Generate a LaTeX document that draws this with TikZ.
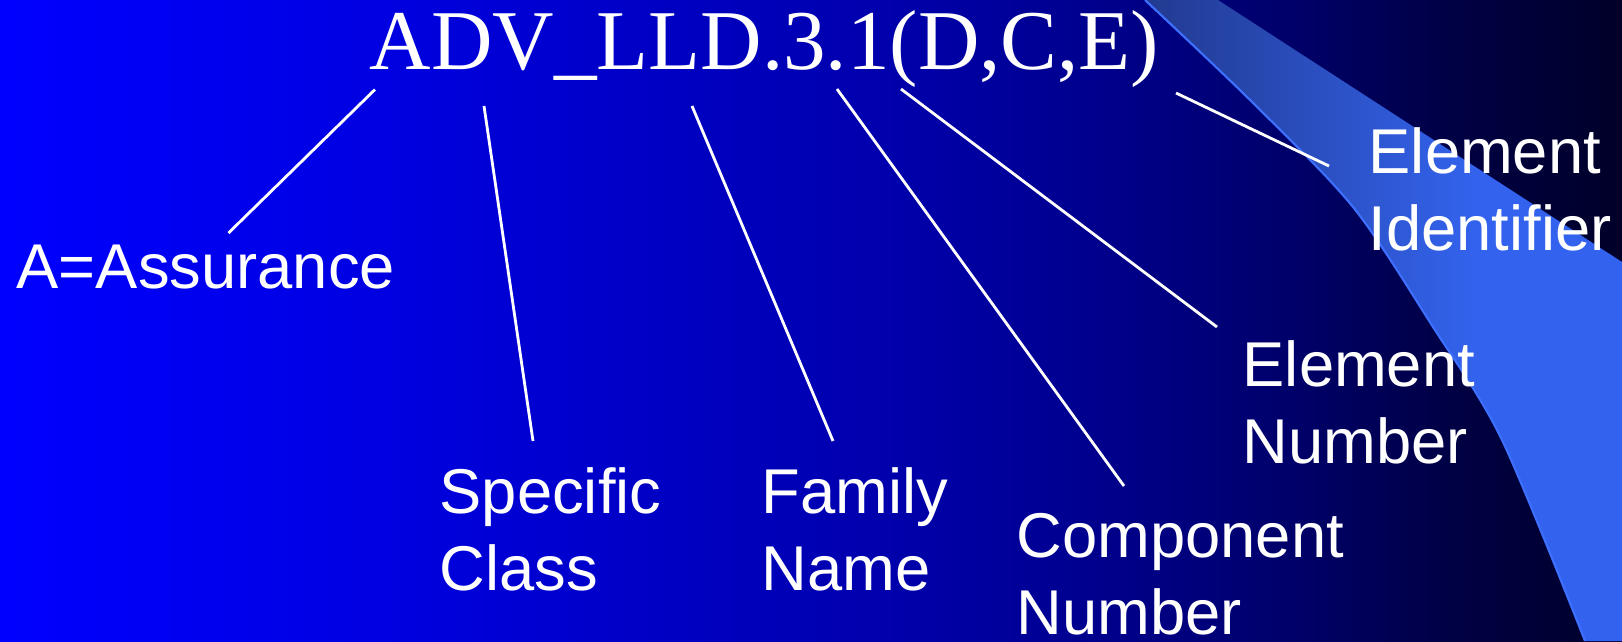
\documentclass[tikz,border=0pt]{standalone}
\usepackage{fontspec}
\setmainfont{Liberation Serif}
\setsansfont{Liberation Sans}
\usetikzlibrary{positioning}

\definecolor{swA}{RGB}{34,58,144}
\definecolor{swB}{RGB}{51,99,238}
\definecolor{swEdge}{RGB}{62,112,255}

% slide background, blue fading to near black
\pgfdeclarehorizontalshading{slidebg}{100bp}{rgb(0bp)=(0,0,1); rgb(25bp)=(0,0,1); rgb(37bp)=(0,0,0.88); rgb(52.7bp)=(0,0,0.67); rgb(58.9bp)=(0,0,0.55); rgb(65bp)=(0,0,0.41); rgb(69.7bp)=(0,0,0.27); rgb(75bp)=(0,0,0.16); rgb(100bp)=(0,0,0.16)}
\pgfdeclarehorizontalshading{swoosh}{100bp}{color(0bp)=(swA); color(25bp)=(swA); color(60bp)=(swB); color(100bp)=(swB)}

\begin{document}
\begin{tikzpicture}
	[   x=0.01cm,y=-0.01cm,
		lbl/.style={anchor=base west,inner sep=0pt,text=white,align=left,font=\sffamily\fontsize{18}{21.8}\selectfont},
		pointer/.style={draw=white,line width=0.8pt},
	]
	\useasboundingbox (0,0) rectangle (1622,641);
	\shade[shading=slidebg] (0,0) rectangle (1622,641);

	% the swoosh on the right
	\shade[shading=swoosh] plot[smooth] coordinates {(1145,0) (1250,100) (1353,207) (1433,327) (1502,440) (1585,641)}
		-- (1622,641) -- (1622,262) -- (1218,0) -- cycle;
	\draw[swEdge,line width=0.6pt] plot[smooth] coordinates {(1145,0) (1250,100) (1353,207) (1433,327) (1502,440) (1585,641)};

	\node[anchor=base west,inner sep=0pt,text=white,font=\fontsize{24.2}{29}\selectfont] (code) at (369,69) {ADV\_LLD.3.1(D,C,E)};

	% labels, placed by the baseline of their last line
	\node[lbl] (assur) at (16,288) {A=Assurance};
	\node[lbl] (cls) at (439,590) {Specific\\Class};
	\node[lbl] (fam) at (761,590) {Family\\Name};
	\node[lbl] (comp) at (1016,634) {Component\\Number};
	\node[lbl] (elnum) at (1242,463) {Element\\Number};
	\node[lbl] (elid) at (1368,250) {Element\\Identifier};

	% ends under the code
	\coordinate (t-1) at (375,89.5);
	\coordinate (t-2) at (484,106);
	\coordinate (t-3) at (692,106);
	\coordinate (t-4) at (837,89);
	\coordinate (t-5) at (901,89);
	\coordinate (t-6) at (1176,93);
	% ends next to the labels
	\coordinate (b-1) at (228.5,233);
	\coordinate (b-2) at (533,441);
	\coordinate (b-3) at (833,441);
	\coordinate (b-4) at (1124,486);
	\coordinate (b-5) at (1217,327);
	\coordinate (b-6) at (1329,166);

	\foreach \x in {1,...,6}
	{
		\path[pointer] (t-\x) -- (b-\x);
	}
\end{tikzpicture}
\end{document}
